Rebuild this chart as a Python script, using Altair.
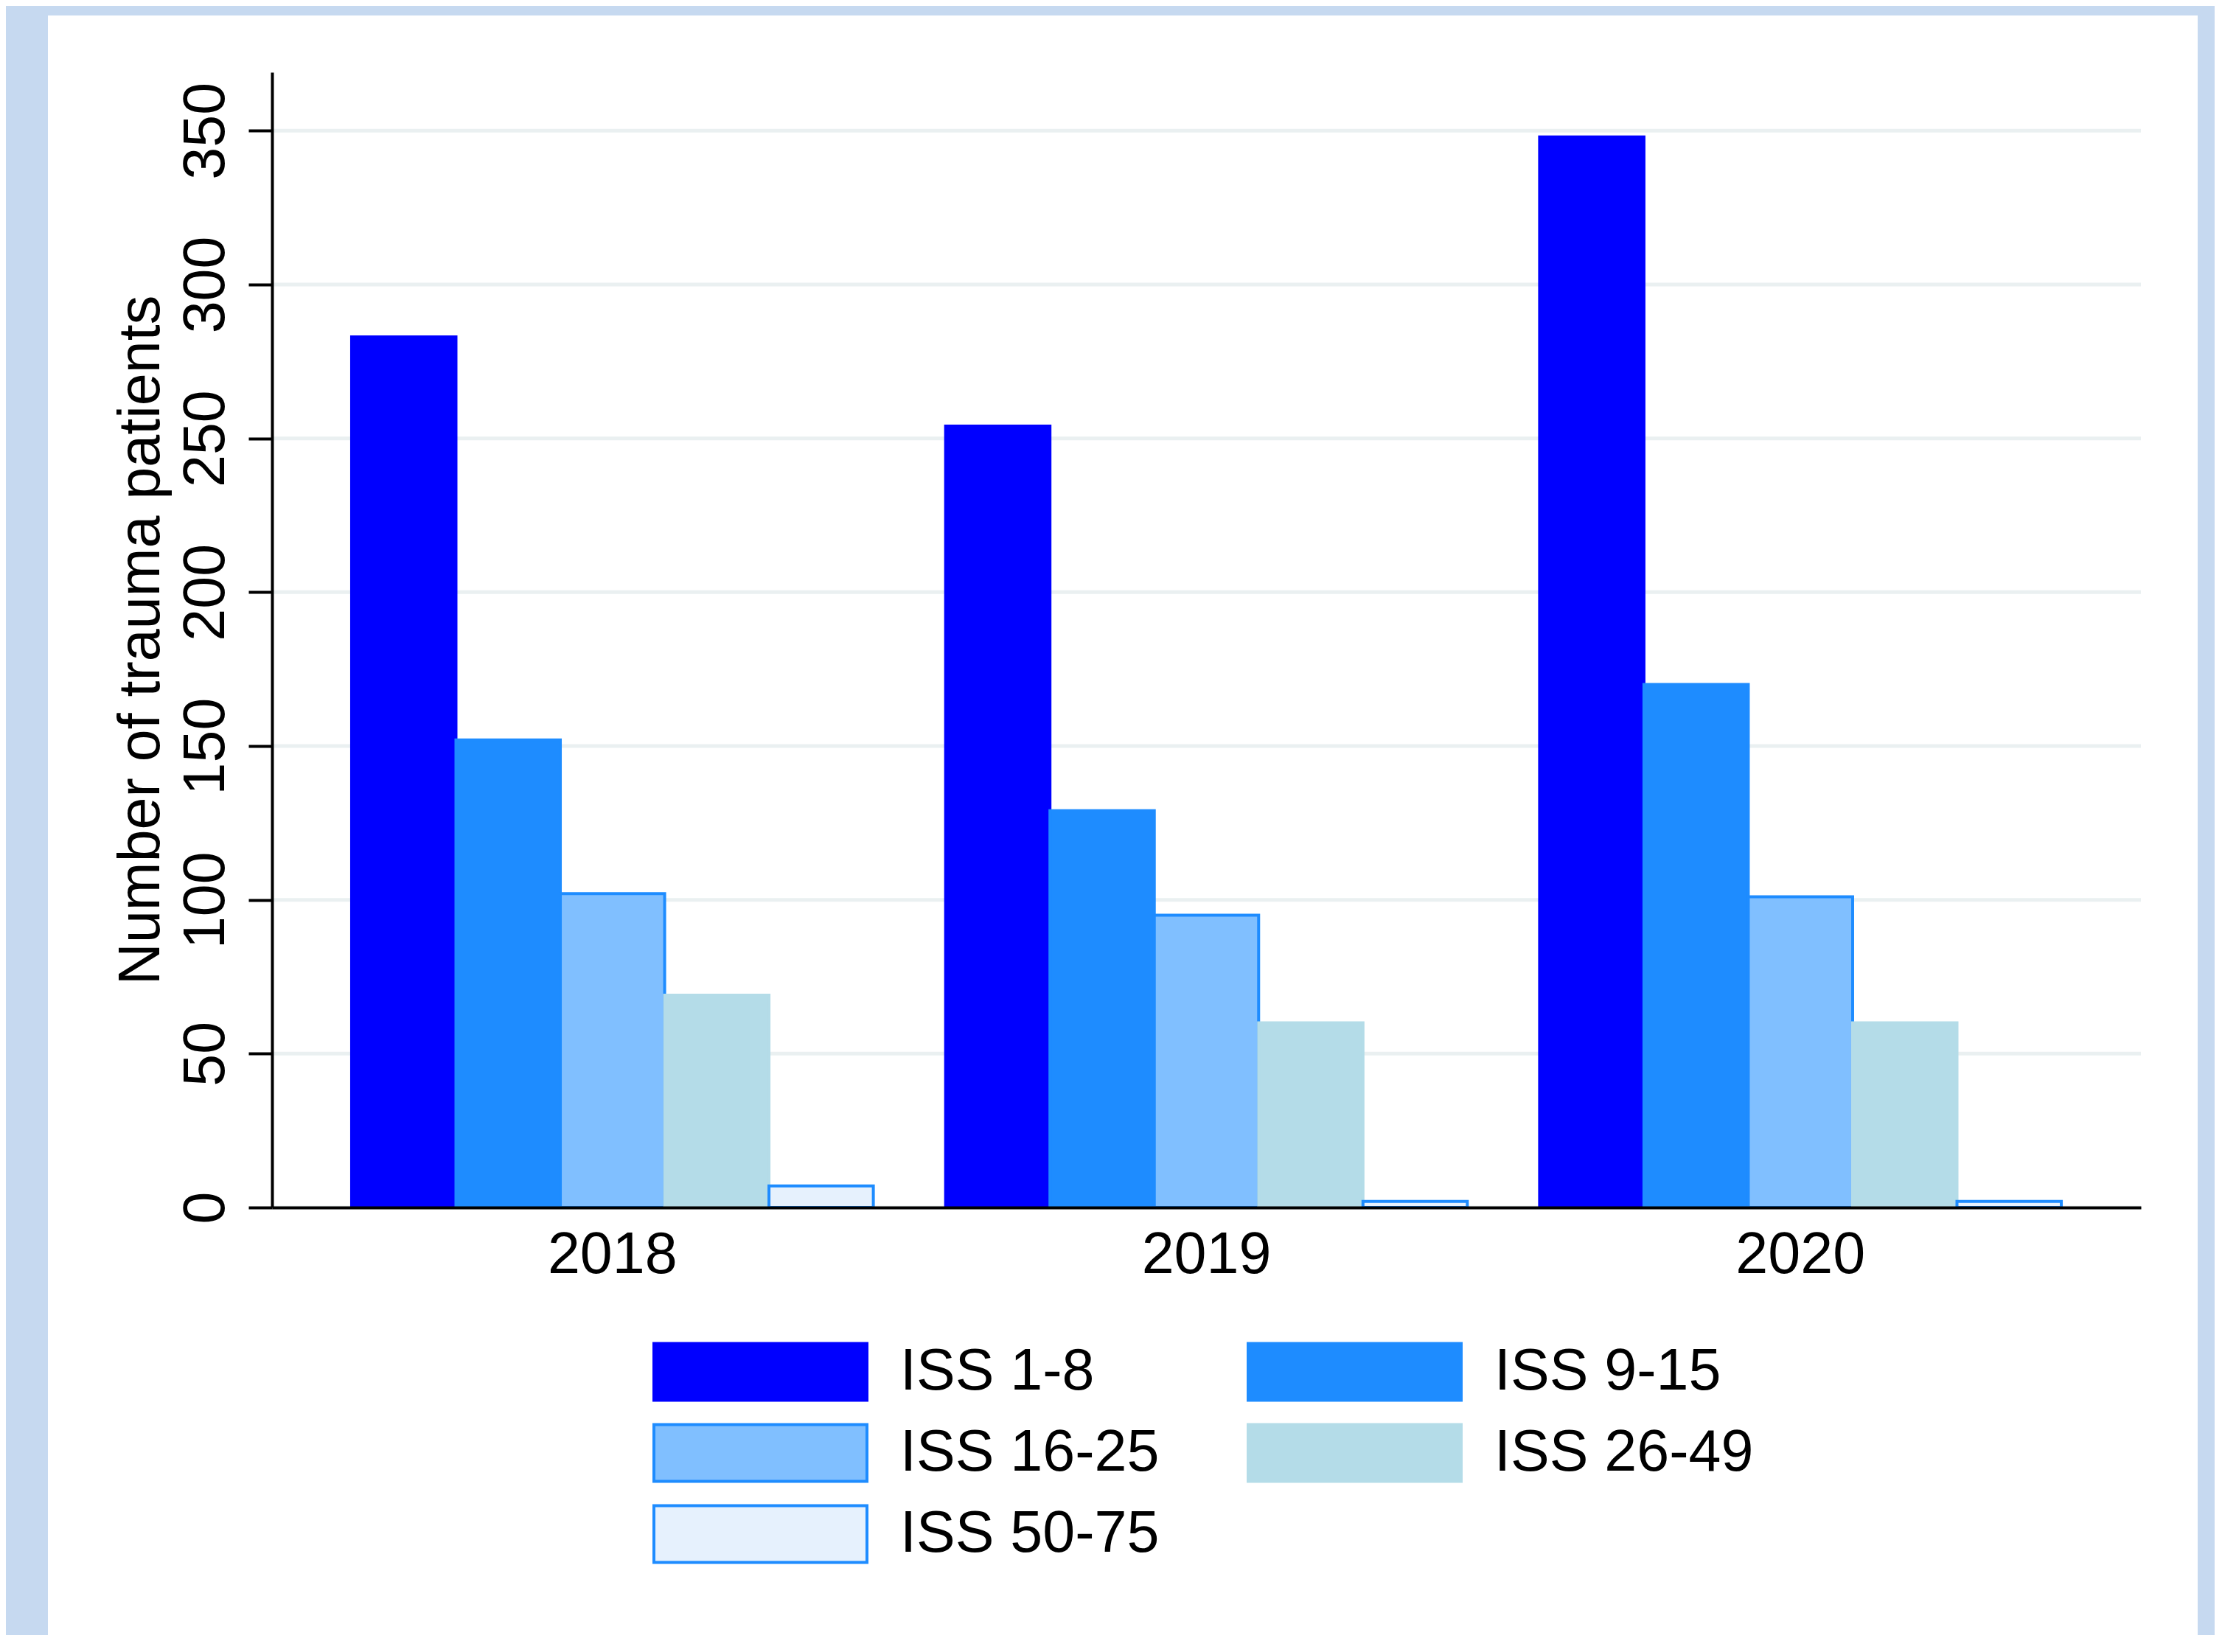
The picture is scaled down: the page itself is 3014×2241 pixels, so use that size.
import altair as alt
import pandas as pd

# ---- data ----
years = ["2018", "2019", "2020"]
groups = ["ISS 1-8", "ISS 9-15", "ISS 16-25", "ISS 26-49", "ISS 50-75"]
iss_1_8 = [283, 254, 348]
iss_9_15 = [152, 129, 170]
iss_16_25 = [102, 95, 101]
iss_26_49 = [69, 60, 60]
iss_50_75 = [7, 2, 2]
y_ticks = [0, 50, 100, 150, 200, 250, 300, 350]

fills = ["#0000FF", "#1E8CFF", "#80BFFF", "#B4DCE8", "#E6F1FD"]
strokes = ["#0000FF", "#1E8CFF", "#1E8CFF", "#B4DCE8", "#1E8CFF"]

series = [iss_1_8, iss_9_15, iss_16_25, iss_26_49, iss_50_75]
rows = []
for g, vals in zip(groups, series):
    for yr, v in zip(years, vals):
        rows.append({"year": yr, "group": g, "count": v})
df = pd.DataFrame(rows)
grid_df = pd.DataFrame({"count": y_ticks})
panel_df = pd.DataFrame({"panel": [0]})

FONT = "Liberation Sans"
FS = 79
W, H = 2535, 1540
ydom = [0, 369]

y_scale = alt.Scale(domain=ydom, nice=False, zero=True)
y_axis = alt.Axis(
    title="Number of trauma patients",
    values=y_ticks,
    labelAngle=270,
    labelAlign="center",
    labelBaseline="alphabetic",
    labelFont=FONT,
    labelFontSize=FS,
    labelColor="black",
    labelPadding=34,
    tickSize=32,
    tickWidth=4,
    tickColor="black",
    domainColor="black",
    domainWidth=4,
    grid=False,
    titleFont=FONT,
    titleFontSize=FS,
    titleFontWeight="normal",
    titleColor="black",
    titleAngle=270,
    titleAlign="center",
    titleBaseline="alphabetic",
    titleX=-154,
    titleY=770,
    titleLimit=3000,
    zindex=1,
)

panel = alt.Chart(panel_df).mark_rect(color="white").encode(
    x=alt.value(-304), x2=alt.value(2612), y=alt.value(-77), y2=alt.value(2300)
)

grid = alt.Chart(grid_df).mark_rule(color="#EAF0F1", strokeWidth=5).encode(
    y=alt.Y("count:Q", scale=y_scale, axis=y_axis)
)

legend = alt.Legend(
    title=None,
    orient="none",
    direction="horizontal",
    legendX=516,
    legendY=1722,
    columns=2,
    columnPadding=118,
    rowPadding=28,
    clipHeight=82,
    symbolType="M-1,-0.2664L1,-0.2664L1,0.2664L-1,0.2664Z",
    symbolSize=83521,
    symbolStrokeWidth=4,
    symbolOpacity=1,
    labelFont=FONT,
    labelFontSize=FS,
    labelColor="black",
    labelOffset=43,
    labelLimit=2000,
    padding=0,
)

bars = alt.Chart(df).mark_bar(strokeWidth=4, opacity=1).encode(
    x=alt.X(
        "year:N",
        sort=years,
        scale=alt.Scale(paddingInner=0.1217, paddingOuter=0.134),
        axis=alt.Axis(
            title=None,
            labelAngle=0,
            labelFont=FONT,
            labelFontSize=FS,
            labelColor="black",
            labelBaseline="alphabetic",
            labelPadding=88,
            ticks=False,
            tickSize=0,
            domainColor="black",
            domainWidth=4,
            grid=False,
            zindex=1,
        ),
    ),
    xOffset=alt.XOffset("group:N", sort=groups, scale=alt.Scale(paddingInner=0, paddingOuter=0)),
    y=alt.Y("count:Q", scale=y_scale, axis=y_axis),
    color=alt.Color("group:N", sort=groups, scale=alt.Scale(domain=groups, range=fills), legend=legend),
    stroke=alt.Stroke("group:N", sort=groups, scale=alt.Scale(domain=groups, range=strokes), legend=legend),
)

chart = (
    alt.layer(panel, grid, bars)
    .properties(
        width=W,
        height=H,
        autosize=alt.AutoSizeParams(type="none"),
        padding={"left": 361, "top": 90, "right": 100, "bottom": 580},
    )
    .configure(background="#C6D9F0", font=FONT)
    .configure_view(strokeWidth=0)
)

chart.save("out.html", embed_options={"renderer": "svg", "actions": False})
